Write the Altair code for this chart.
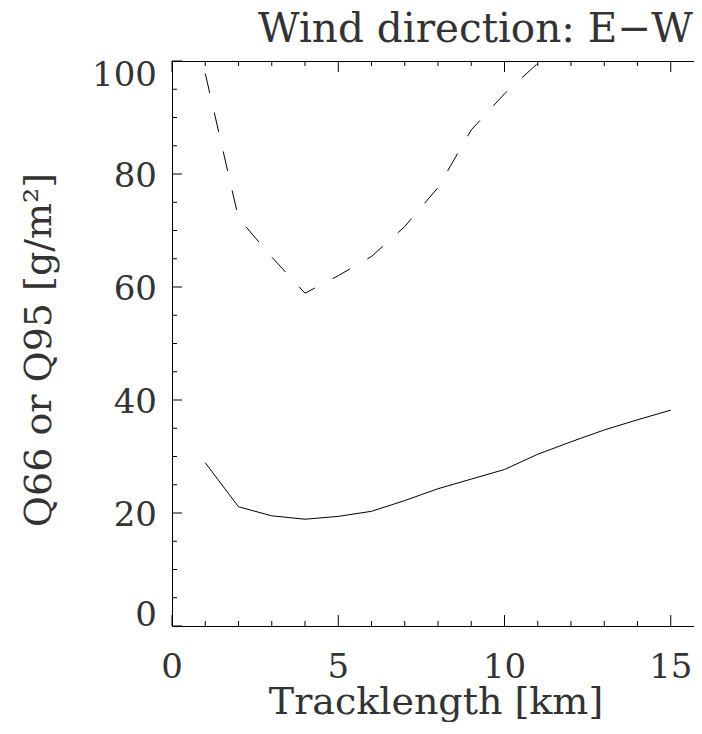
import altair as alt
import pandas as pd

# ---- data ----
track_km = [1, 2, 3, 4, 5, 6, 7, 8, 9, 10, 11, 12, 13, 14, 15]
q66 = [28.9, 21.1, 19.5, 18.9, 19.4, 20.3, 22.2, 24.3, 26.0, 27.7, 30.4, 32.6, 34.7, 36.5, 38.2]
q95_km = [1, 2, 3, 4, 5, 6, 7, 8, 9, 10, 11]
q95 = [97.8, 72.2, 65.3, 58.9, 62.0, 65.4, 70.7, 77.6, 87.8, 94.2, 99.6]

x_major = [0, 5, 10, 15]
x_minor = [1, 2, 3, 4, 6, 7, 8, 9, 11, 12, 13, 14]
y_major = [0, 20, 40, 60, 80, 100]
y_minor = [5, 10, 15, 25, 30, 35, 45, 50, 55, 65, 70, 75, 85, 90, 95]

title_text = ["Wind direction: E\u2212W"]
x_title = ["Tracklength [km]"]
y_title = ["Q66 or Q95 [g/m\u00b2]"]

# ---- layout / style ----
W, H = 532, 565
FONT = "DejaVu Serif"
INK = "#333333"

xs = alt.Scale(domain=[0, 16], nice=False, zero=False)
ys = alt.Scale(domain=[0, 100], nice=False, zero=False)

df_q66 = pd.DataFrame({"x": track_km, "y": q66})
df_q95 = pd.DataFrame({"x": q95_km, "y": q95})
df_xmaj = pd.DataFrame({"x": x_major})
df_xmin = pd.DataFrame({"x": x_minor})
df_ymaj = pd.DataFrame({"y": y_major})
df_ymin = pd.DataFrame({"y": y_minor})
df_tt = pd.DataFrame({"t": title_text})
df_xt = pd.DataFrame({"t": x_title})
df_yt = pd.DataFrame({"t": y_title})

X = alt.X("x:Q", scale=xs, axis=None)
Y = alt.Y("y:Q", scale=ys, axis=None)

solid = alt.Chart(df_q66).mark_line(color="black", strokeWidth=1, clip=True).encode(x=X, y=Y)
dashed = alt.Chart(df_q95).mark_line(
    color="black", strokeWidth=1, strokeDash=[20, 20], clip=True).encode(x=X, y=Y)

def xticks(df, y1, y2):
    return alt.Chart(df).mark_rule(color="black", strokeWidth=1).encode(
        x=X, y=alt.value(y1), y2=alt.value(y2))

def yticks(df, x1, x2):
    return alt.Chart(df).mark_rule(color="black", strokeWidth=1).encode(
        y=Y, x=alt.value(x1), x2=alt.value(x2))

ticks = [
    xticks(df_xmaj, H - 11, H), xticks(df_xmin, H - 5, H),
    xticks(df_xmaj, 0, 11), xticks(df_xmin, 0, 5),
    yticks(df_ymaj, 0, 10), yticks(df_ymin, 0, 5),
    yticks(df_ymaj, W - 10, W), yticks(df_ymin, W - 5, W),
]

lab = dict(font=FONT, fontSize=34, color=INK, baseline="alphabetic")

x_labels = alt.Chart(df_xmaj).mark_text(align="center", dy=52, **lab).encode(
    x=X, y=alt.value(H), text=alt.Text("x:Q", format="d"))

def ylabels(test, dy):
    return alt.Chart(df_ymaj).transform_filter(test).mark_text(
        align="right", dx=-15, dy=dy, **lab).encode(
        y=Y, x=alt.value(0), text=alt.Text("y:Q", format="d"))

y_labels = [
    ylabels("datum.y > 0 && datum.y < 100", 13),
    ylabels("datum.y == 0", 0),
    ylabels("datum.y == 100", 25),
]

title_mark = alt.Chart(df_tt).mark_text(
    align="left", font=FONT, fontSize=40.5, color=INK, baseline="alphabetic").encode(
    x=alt.value(86), y=alt.value(-19), text="t:N")
x_title_mark = alt.Chart(df_xt).mark_text(
    align="center", font=FONT, fontSize=38, color=INK, baseline="alphabetic").encode(
    x=alt.value(264), y=alt.value(H + 88), text="t:N")
y_title_mark = alt.Chart(df_yt).mark_text(
    align="center", angle=270, font=FONT, fontSize=38, color=INK, baseline="alphabetic").encode(
    x=alt.value(-121), y=alt.value(289), text="t:N")

chart = alt.layer(
    solid, dashed, *ticks, x_labels, *y_labels, title_mark, x_title_mark, y_title_mark
).properties(
    width=W, height=H,
    autosize=alt.AutoSizeParams(type="none"),
    padding={"left": 164, "top": 53, "right": -10, "bottom": 96},
    background="white",
).configure_view(stroke="black", strokeWidth=1)

chart.save("out.html", embed_options={"renderer": "svg", "actions": False})
